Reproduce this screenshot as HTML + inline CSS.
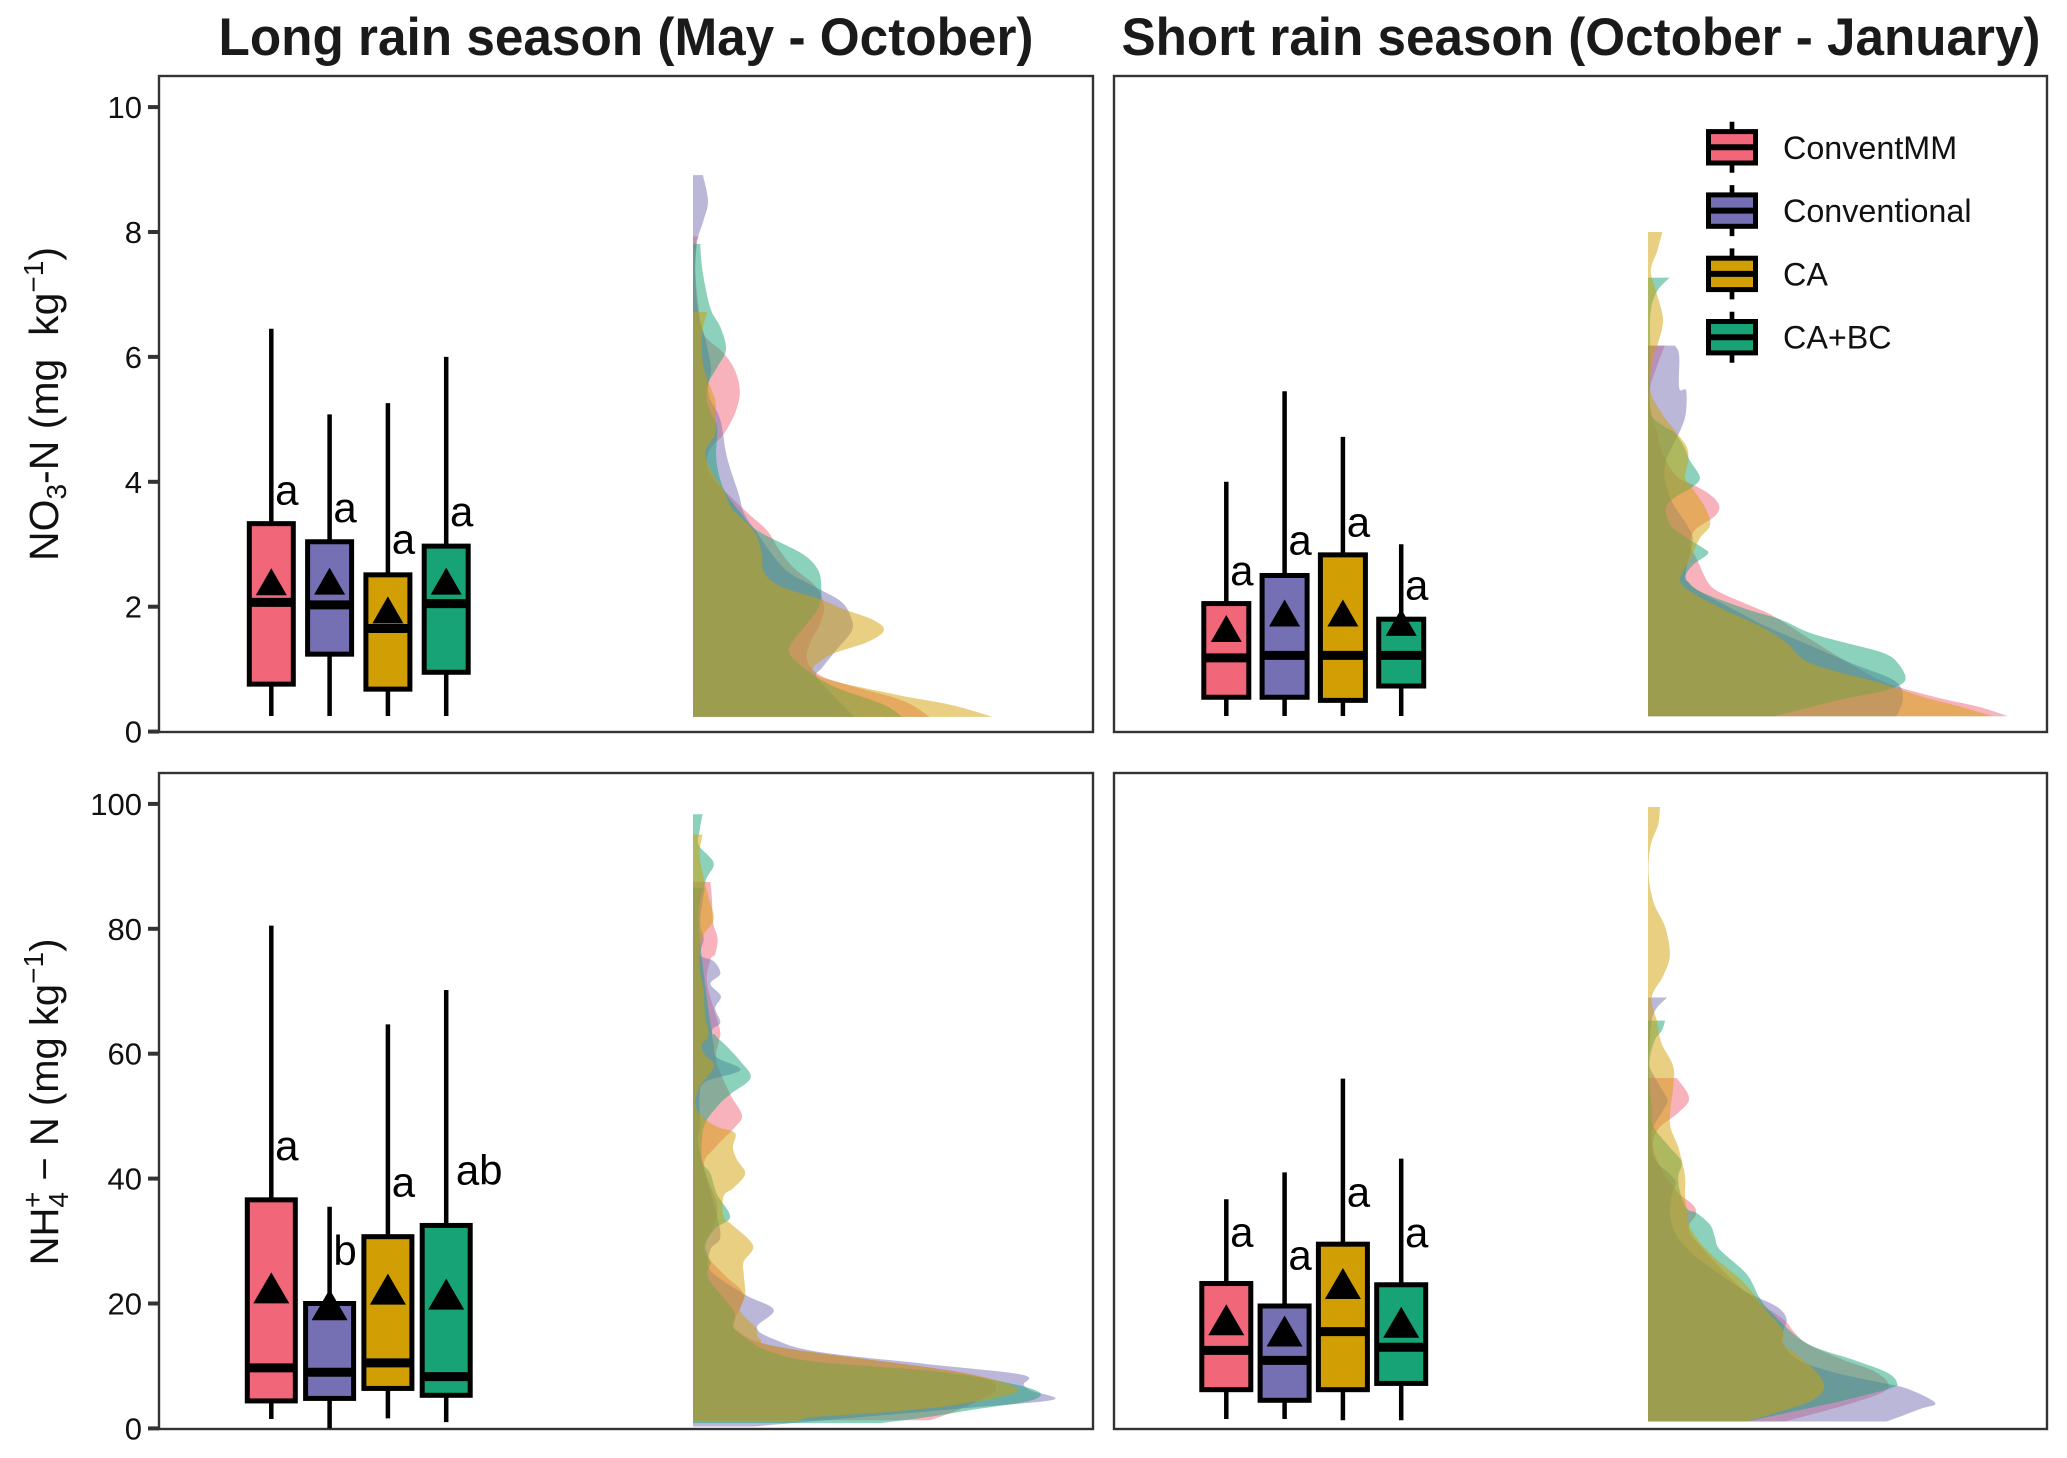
<!DOCTYPE html>
<html lang="en">
<head>
<meta charset="utf-8">
<title>NO3-N and NH4-N raincloud chart</title>
<style>
html,body{margin:0;padding:0;background:#fff;}
svg{display:block;font-family:"Liberation Sans",sans-serif;}
</style>
</head>
<body>
<svg id="chart" xmlns="http://www.w3.org/2000/svg" width="2067" height="1458" viewBox="0 0 2067 1458">
  <rect x="0" y="0" width="2067" height="1458" fill="#ffffff"/>
  <text x="626" y="55" text-anchor="middle" font-size="53" font-weight="700" fill="#1a1a1a" textLength="815" lengthAdjust="spacingAndGlyphs">Long rain season (May - October)</text>
  <text x="1581" y="55" text-anchor="middle" font-size="53" font-weight="700" fill="#1a1a1a" textLength="919" lengthAdjust="spacingAndGlyphs">Short rain season (October - January)</text>
  <text transform="translate(58,404) rotate(-90)" text-anchor="middle" font-size="41" fill="#111" xml:space="preserve">NO<tspan font-size="28" dy="8">3</tspan><tspan dy="-8">-N (mg  kg</tspan><tspan font-size="28" dy="-15">−1</tspan><tspan dy="15">)</tspan></text>
  <text transform="translate(58,1102) rotate(-90)" text-anchor="middle" font-size="40" fill="#111" xml:space="preserve">NH<tspan font-size="28" dy="10">4</tspan><tspan font-size="28" dx="-16" dy="-26">+</tspan><tspan dy="16"> − N (mg kg</tspan><tspan font-size="28" dy="-15">−1</tspan><tspan dy="15">)</tspan></text>
  <g id="panels"></g>
  <g id="legend"></g>
</svg>
<script>
// ---------- categories ----------
const treatments = ['ConventMM', 'Conventional', 'CA', 'CA+BC'];
const fillColors = ['#F26679', '#7570B3', '#D19F03', '#18A377'];
const violinDrawOrder = [0, 1, 3, 2];
const no3Ticks = [0, 2, 4, 6, 8, 10];
const nh4Ticks = [0, 20, 40, 60, 80, 100];

// ---------- box summaries: NO3 long rain ----------
const no3LongHigh = [6.45, 5.08, 5.26, 6.0];
const no3LongQ3 = [3.33, 3.04, 2.51, 2.97];
const no3LongMedian = [2.07, 2.03, 1.65, 2.05];
const no3LongQ1 = [0.76, 1.24, 0.68, 0.95];
const no3LongLow = [0.25, 0.25, 0.25, 0.25];
const no3LongMean = [2.4, 2.41, 1.95, 2.41];
const no3LongLetters = ['a', 'a', 'a', 'a'];
const no3LongLetterAt = [3.82, 3.54, 3.04, 3.48];

// ---------- box summaries: NO3 short rain ----------
const no3ShortHigh = [4.0, 5.45, 4.72, 3.0];
const no3ShortQ3 = [2.05, 2.5, 2.83, 1.8];
const no3ShortMedian = [1.18, 1.22, 1.22, 1.22];
const no3ShortQ1 = [0.55, 0.55, 0.5, 0.73];
const no3ShortLow = [0.25, 0.25, 0.25, 0.25];
const no3ShortMean = [1.65, 1.9, 1.9, 1.75];
const no3ShortLetters = ['a', 'a', 'a', 'a'];
const no3ShortLetterAt = [2.53, 3.02, 3.31, 2.3];

// ---------- box summaries: NH4 long rain ----------
const nh4LongHigh = [80.5, 35.5, 64.7, 70.2];
const nh4LongQ3 = [36.6, 20, 30.7, 32.5];
const nh4LongMedian = [9.7, 9, 10.5, 8.3];
const nh4LongQ1 = [4.4, 4.8, 6.4, 5.3];
const nh4LongLow = [1.5, 0, 1.6, 1];
const nh4LongMean = [22.5, 19.8, 22.3, 21.5];
const nh4LongLetters = ['a', 'b', 'a', 'ab'];
const nh4LongLetterAt = [44.8, 28, 39, 40.9];

// ---------- box summaries: NH4 short rain ----------
const nh4ShortHigh = [36.7, 41, 56, 43.2];
const nh4ShortQ3 = [23.2, 19.6, 29.5, 23];
const nh4ShortMedian = [12.5, 10.9, 15.5, 13];
const nh4ShortQ1 = [6.2, 4.5, 6.2, 7.2];
const nh4ShortLow = [1.5, 1.5, 1.3, 1.3];
const nh4ShortMean = [17.4, 15.6, 23.2, 17];
const nh4ShortLetters = ['a', 'a', 'a', 'a'];
const nh4ShortLetterAt = [31, 27.3, 37.4, 30.9];

// ---------- densities: NO3 long rain ----------
const aPinkConc = [7.93,7.81,7.37,6.78,6.36,6.06,5.77,5.44,5.11,4.76,4.55,4.30,4.05,3.87,3.51,3.22,2.92,2.62,2.33,2.03,1.73,1.43,1.14,0.90,0.72,0.49,0.235];
const aPinkDens = [1.9,1.3,0.8,1.9,3.6,10.2,14.1,15.6,14.1,10.2,6,4.5,6.5,10.2,18,24.7,28.6,33.6,40.8,43.6,42.4,39.1,38,42.4,53.6,70.2,78.9];
const aPurpleConc = [8.91,8.50,8.20,7.93,7.81,7.37,6.78,6.30,5.83,5.59,5.35,4.99,4.40,3.81,3.51,3.22,2.62,2.33,2.09,1.85,1.62,1.32,1.02,0.90,0.72,0.235];
const aPurpleDens = [3.3,5,3.6,1.7,1.1,0.7,1.5,4,6,5.2,5.5,9.1,11.3,15.2,16.9,20.8,30.2,40.2,49.2,52.5,53,48,43,41,44,53.8];
const aYellowConc = [6.72,6.36,5.9,5.59,5.3,4.99,4.76,4.46,4.11,3.87,3.57,3.22,2.86,2.56,2.33,2.12,1.97,1.79,1.62,1.43,1.20,0.90,0.60,0.43,0.235];
const aYellowDens = [4.7,3,3.3,5.2,7.4,7.6,7.4,4.1,6.9,10.2,13,20.2,22.9,23.6,29,42.4,49.7,60,63.6,58,44.7,41.3,66.9,85.8,100];
const aGreenConc = [7.81,7.37,6.78,6.48,6.12,5.83,5.59,5.35,5.11,4.88,4.40,4.05,3.81,3.51,3.22,2.86,2.62,2.38,2.03,1.73,1.43,1.25,1.02,0.72,0.43,0.235];
const aGreenDens = [2.4,3.2,5.8,9.1,11,8,5.2,4.5,5.8,8,7.7,9,11.1,15.8,21.4,36,41.3,42.7,42.2,38,33,32.1,36.9,47,63.6,69.7];

// ---------- densities: NO3 short rain ----------
const bPinkConc = [6.18,5.85,5.5,5.1,4.78,4.56,4.34,4.07,3.91,3.75,3.59,3.43,3.23,2.99,2.77,2.39,2.23,2.02,1.85,1.42,1.04,0.77,0.55,0.40,0.245];
const bPinkDens = [5.6,3,0.7,1,3,4,6,10,16.8,21.8,23.8,21.8,15.7,14,16.2,20,24,34,41.8,56,69,80,96,110,120.1];
const bPurpleConc = [6.18,6.02,5.5,5.46,5.10,4.85,4.56,4.34,4.07,3.80,3.59,3.31,3.10,2.85,2.67,2.42,2.23,1.96,1.69,1.42,1.09,0.82,0.55,0.245];
const bPurpleDens = [9,10.4,10.4,12.7,12.6,11,8,6,5.5,7,9,13,14.9,14,13,12.9,17.8,28.4,39,52,68,82,85,82.9];
const bYellowConc = [8.0,7.70,7.38,7.05,6.73,6.51,6.18,6.02,5.48,5.10,4.78,4.56,4.34,4.07,3.91,3.59,3.31,3.10,2.85,2.67,2.42,2.23,1.96,1.69,1.42,1.09,0.77,0.55,0.40,0.245];
const bYellowDens = [4.8,3.1,0.9,2.7,4.6,4.9,3.1,1.8,0.7,4.6,9.6,12.9,13.4,12.3,14.6,19,20.7,17.3,14.9,12.9,10.7,14.6,25.1,37.3,46.2,54.4,78,92,104,115];
const bGreenConc = [7.27,7.05,6.73,6.18,5.64,5.10,4.9,4.78,4.56,4.34,4.07,3.91,3.75,3.59,3.31,3.10,2.95,2.85,2.67,2.48,2.39,2.23,1.96,1.80,1.58,1.42,1.26,1.09,0.82,0.66,0.50,0.245];
const bGreenDens = [7.2,3,0.9,0.7,0.6,1,5,9,12,14,17.3,14.6,9,6,7.5,13,18,20,15,12.3,13.6,18,32.9,44,54,66,78.4,83.4,85.7,79,63,42.3];

// ---------- densities: NH4 long rain ----------
const cPinkConc = [87.5,84.9,81,78.4,76,75,71.2,64,62,58.8,53.5,50.2,48.3,45,42,36,32.6,28.6,24.7,21.4,17.5,15.5,12.9,9,6.4,3.1,1.3];
const cPinkDens = [5.8,6.3,6.7,8.2,7.4,5.8,4.7,8.9,8.6,7.8,12.4,16.3,14.1,7.4,3.6,8,7,3.6,10.2,16.9,14.1,15.2,30.2,89,101,89,79];
const cPurpleConc = [86.6,81,78.4,75.8,74.8,72.8,71.2,69.2,67.3,65,63.8,61.4,59.4,57.4,55.5,53,48.3,45,35.2,30.6,28.6,25.3,21.4,19,16.2,14.3,12.3,10.3,8.6,7,6,4.6,3.4,1.8,0.3];
const cPurpleDens = [3.9,2.4,3.6,2.4,6.9,9.1,5.8,9.3,7.4,9.1,6.4,6.9,8,15.8,4.1,2.2,2.4,1.9,7.4,9.1,5.8,5.8,17.4,26.9,21.3,26.9,41.3,78,109.7,110.2,113,120.2,94.7,55.8,20.2];
const cYellowConc = [95.1,92,88,85,81.5,79,76,72.8,70,66,63,61.4,59.8,58,54.8,52.2,50.2,48.3,47.3,45,43,40.8,38.5,37.2,33.9,32.6,29.3,26.7,24.7,21.4,18.8,16.2,14.3,12.9,9,6.4,5.0,4.2,3.4,2.5,1.8,1.15];
const cYellowDens = [3.2,2.2,3.6,5.2,6.9,3.5,2.2,2.5,3.6,4,5.2,2.8,4,7,2.4,0.8,2.4,8,14,13.3,14.7,17.4,13.5,10.2,10.2,13,20,16.9,16.9,17.4,15.8,20.8,22.4,30.2,89,108,102,93,82,62,40,35];
const cGreenConc = [98.35,95.7,93.4,90.5,87.5,81,65,63,61.4,58.8,56.1,53.5,51.5,48.3,43,40.8,37.5,33.9,32,29.3,26.7,24,18.8,15.5,11.2,9,6.4,4.6,3.1,1.8,0.84];
const cGreenDens = [3.2,2.2,1.9,6.9,4.1,1.9,5.8,7.4,10.8,15.8,19.2,12.4,8,3.6,3,5.8,8,12.4,7.4,4.1,5.8,5.2,13.5,14.7,33.6,83.6,112.4,113.6,94.7,78,62.4];

// ---------- densities: NH4 short rain ----------
const dPinkConc = [56.1,52.9,50.5,48,45,41,39.2,37.5,35.8,34.3,32,29,22.1,17.5,15.6,13.6,11,9,6.4,4.1,1.1];
const dPinkDens = [9.6,13.7,10,3.5,1.7,5,7.7,10.5,15,16,13.5,17.8,31.8,45,48.4,53,65,76,80,68.4,45.7];
const dPurpleConc = [69,67.3,65.3,61,58,54.8,52.6,51,48.3,46.3,43,39.8,37.5,34.5,31.3,28.6,26.7,22.1,19.5,17.5,15.6,13.6,11,9,7.4,6.4,4.1,3.1,1.1];
const dPurpleDens = [6.4,2.9,1.2,0.5,0.5,4,6.5,5.1,1.8,1.2,2.3,9,7.9,7.3,9,13.4,18,32,42.9,46.2,45.1,45,50,61.7,77,86.2,95.7,90.7,79.5];
const dYellowConc = [99.5,96.7,93.4,88.9,84.3,80.3,75.8,72.5,69,65.3,61.7,58,54.8,48.9,45,40.5,37.5,35.2,31.9,28,23.4,18.8,15.6,13.6,11.6,9,6.4,4.1,1.1];
const dYellowDens = [4,3.4,0.9,0.2,1.8,5.7,7.3,5.1,1.2,2.9,4.5,8.4,8.4,7.3,10.1,12.3,12.3,12.9,14.3,20.7,31.8,39.6,45.1,45.1,50,56.2,58.7,52.9,32.8];
const dGreenConc = [65.3,63.7,62,58,51,48.3,45,42.7,40.4,37.8,35.2,34.5,32.6,30.6,28.6,24.7,20.8,18.2,13.6,11,9,7.4,6.4,4.1,1.1];
const dGreenDens = [5.7,4.6,2.1,0.4,1.2,1.8,7.3,11.2,10.1,10.7,12.9,16.2,20.7,22.3,24,32.9,37.3,41.8,53,68.4,79.5,82.9,80.7,61.8,32.9];

// ---------- panel composition ----------
const panelDefs = [
  {key:'no3-long', left:159, right:1093, top:76, bottom:732, zero:731.6, perUnit:62.45, ticks:no3Ticks, showTicks:true, boxW:44, markW:31, markH:27,
   high:no3LongHigh, q3:no3LongQ3, med:no3LongMedian, q1:no3LongQ1, low:no3LongLow, mean:no3LongMean, letters:no3LongLetters, letterAt:no3LongLetterAt,
   conc:[aPinkConc,aPurpleConc,aYellowConc,aGreenConc], dens:[aPinkDens,aPurpleDens,aYellowDens,aGreenDens]},
  {key:'no3-short', left:1114, right:2047, top:76, bottom:732, zero:731.6, perUnit:62.45, ticks:no3Ticks, showTicks:false, boxW:45, markW:31, markH:27,
   high:no3ShortHigh, q3:no3ShortQ3, med:no3ShortMedian, q1:no3ShortQ1, low:no3ShortLow, mean:no3ShortMean, letters:no3ShortLetters, letterAt:no3ShortLetterAt,
   conc:[bPinkConc,bPurpleConc,bYellowConc,bGreenConc], dens:[bPinkDens,bPurpleDens,bYellowDens,bGreenDens]},
  {key:'nh4-long', left:159, right:1093, top:773, bottom:1429, zero:1428.4, perUnit:6.245, ticks:nh4Ticks, showTicks:true, boxW:48, markW:36, markH:31,
   high:nh4LongHigh, q3:nh4LongQ3, med:nh4LongMedian, q1:nh4LongQ1, low:nh4LongLow, mean:nh4LongMean, letters:nh4LongLetters, letterAt:nh4LongLetterAt,
   conc:[cPinkConc,cPurpleConc,cYellowConc,cGreenConc], dens:[cPinkDens,cPurpleDens,cYellowDens,cGreenDens]},
  {key:'nh4-short', left:1114, right:2047, top:773, bottom:1429, zero:1428.4, perUnit:6.245, ticks:nh4Ticks, showTicks:false, boxW:49, markW:36, markH:31,
   high:nh4ShortHigh, q3:nh4ShortQ3, med:nh4ShortMedian, q1:nh4ShortQ1, low:nh4ShortLow, mean:nh4ShortMean, letters:nh4ShortLetters, letterAt:nh4ShortLetterAt,
   conc:[dPinkConc,dPurpleConc,dYellowConc,dGreenConc], dens:[dPinkDens,dPurpleDens,dYellowDens,dGreenDens]}
];

const NS = 'http://www.w3.org/2000/svg';
function make(parent, tag, attrs) {
  const node = document.createElementNS(NS, tag);
  for (const k in attrs) node.setAttribute(k, attrs[k]);
  parent.appendChild(node);
  return node;
}
function slug(s) { return s.toLowerCase().replace(/\+/g, '-').replace(/[^a-z0-9-]/g, ''); }

function splinePath(points, baseX) {
  const yTop = points[0][1], yEnd = points[points.length - 1][1];
  let d = 'M' + baseX + ',' + yTop.toFixed(2) + 'L' + points[0][0].toFixed(2) + ',' + yTop.toFixed(2);
  for (let i = 0; i < points.length - 1; i++) {
    const p0 = points[Math.max(i - 1, 0)], p1 = points[i], p2 = points[i + 1], p3 = points[Math.min(i + 2, points.length - 1)];
    const c1x = Math.max(baseX, p1[0] + (p2[0] - p0[0]) / 6), c1y = p1[1] + (p2[1] - p0[1]) / 6;
    const c2x = Math.max(baseX, p2[0] - (p3[0] - p1[0]) / 6), c2y = p2[1] - (p3[1] - p1[1]) / 6;
    d += 'C' + c1x.toFixed(2) + ',' + c1y.toFixed(2) + ' ' + c2x.toFixed(2) + ',' + c2y.toFixed(2) + ' ' + p2[0].toFixed(2) + ',' + p2[1].toFixed(2);
  }
  return d + 'L' + baseX + ',' + yEnd.toFixed(2) + 'Z';
}

const panelsRoot = document.getElementById('panels');
panelDefs.forEach(function (p) {
  const yScale = function (v) { return p.zero - v * p.perUnit; };
  const boxCenter = function (i) { return p.left + 112.3 + i * 58.3; };
  const densScale = function (d) { return p.left + 534 + d * 3; };

  const g = make(panelsRoot, 'g', {});
  
  

  const frame = make(g, 'rect', {x:p.left, y:p.top, width:p.right - p.left, height:p.bottom - p.top, fill:'#fff', stroke:'#333', 'stroke-width':2.4});
  
  

  // y-axis ticks
  if (p.showTicks) {
    p.ticks.forEach(function (t) {
      const yy = yScale(t);
      const tick = make(g, 'line', {x1:p.left - 11, x2:p.left, y1:yy, y2:yy, stroke:'#333', 'stroke-width':4});
      
      
      const lab = make(g, 'text', {x:p.left - 17, y:yy + 11, 'text-anchor':'end', 'font-size':31, fill:'#111'});
      lab.textContent = String(t);
      
      
    });
  }

  // half-violins
  violinDrawOrder.forEach(function (s) {
    const cs = p.conc[s], ds = p.dens[s], pts = [];
    const n = Math.min(cs.length, ds.length);
    for (let i = 0; i < n; i++) pts.push([densScale(ds[i]), yScale(cs[i])]);
    const v = make(g, 'path', {d:splinePath(pts, densScale(0)), fill:fillColors[s], 'fill-opacity':0.5});
    
    
  });

  // box plots
  treatments.forEach(function (name, i) {
    const cx = boxCenter(i), w = p.boxW;
    const box = make(g, 'g', {});
    
    

    const whisker = make(box, 'line', {x1:cx, x2:cx, y1:yScale(p.high[i]), y2:yScale(p.low[i]), stroke:'#000', 'stroke-width':4.5});
    
    

    const body = make(box, 'rect', {x:cx - w / 2, y:yScale(p.q3[i]), width:w, height:yScale(p.q1[i]) - yScale(p.q3[i]), fill:fillColors[i], stroke:'#000', 'stroke-width':5});
    
    

    const median = make(box, 'line', {x1:cx - w / 2, x2:cx + w / 2, y1:yScale(p.med[i]), y2:yScale(p.med[i]), stroke:'#000', 'stroke-width':9});
    
    

    const my = yScale(p.mean[i]);
    const tri = make(box, 'polygon', {points:(cx - p.markW / 2) + ',' + (my + p.markH / 2) + ' ' + (cx + p.markW / 2) + ',' + (my + p.markH / 2) + ' ' + cx + ',' + (my - p.markH / 2), fill:'#000'});
    
    

    const letter = p.letters[i];
    const lab = make(box, 'text', {x:cx + (letter.length > 1 ? 33 : 15.5), y:yScale(p.letterAt[i]) + 11.5, 'text-anchor':'middle', 'font-size':42, fill:'#000'});
    lab.textContent = letter;
    
    
  });
});

// legend
const legendRoot = document.getElementById('legend');
treatments.forEach(function (name, i) {
  const cy = 147.3 + i * 63.3, cx = 1732;
  const item = make(legendRoot, 'g', {});
  
  
  const wh = make(item, 'line', {x1:cx, x2:cx, y1:cy - 25.5, y2:cy + 25.5, stroke:'#000', 'stroke-width':4.7});
  
  
  const key = make(item, 'rect', {x:cx - 23.5, y:cy - 15.7, width:47, height:31.4, fill:fillColors[i], stroke:'#000', 'stroke-width':5});
  
  
  const mid = make(item, 'line', {x1:cx - 23.5, x2:cx + 23.5, y1:cy, y2:cy, stroke:'#000', 'stroke-width':6});
  
  
  const label = make(item, 'text', {x:1783, y:cy + 11.5, 'font-size':32.3, fill:'#111'});
  label.textContent = name;
  
  
});
</script>
</body>
</html>
